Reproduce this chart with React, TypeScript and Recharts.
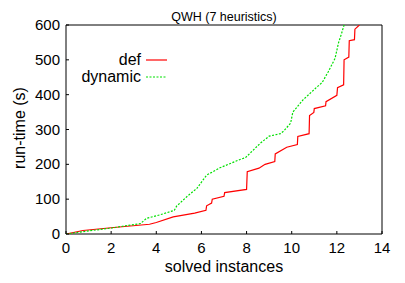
import React from 'react';
import { LineChart, Line, XAxis, YAxis, ReferenceArea } from 'recharts';

const xTicks = [0, 2, 4, 6, 8, 10, 12, 14];
const yTicks = [0, 100, 200, 300, 400, 500, 600];

const defX = [0, 0.75, 2.0, 3.7, 4.0, 4.75, 5.7, 6.2, 6.23, 6.45, 6.48, 7.0, 7.03, 8.0, 8.03, 8.55, 8.82, 9.25, 9.27, 9.78, 10.25, 10.27, 10.77, 10.79, 10.98, 11.0, 11.5, 11.52, 12.0, 12.03, 12.3, 12.32, 12.53, 12.55, 12.78, 12.8, 13.0];
const defY = [0, 10, 18, 28, 33, 49, 60, 68, 81, 89, 100, 108, 119, 128, 179, 189, 200, 208, 230, 249, 257, 280, 288, 340, 349, 360, 368, 380, 398, 420, 428, 500, 508, 555, 558, 588, 600];

const dynX = [0, 1, 2, 3.3, 3.57, 4.16, 4.8, 4.9, 5.35, 5.8, 6.23, 6.82, 7.71, 7.95, 8.6, 9.0, 9.5, 9.65, 9.95, 10.05, 10.5, 11.1, 11.35, 11.62, 11.92, 12.07, 12.21, 12.32];
const dynY = [0, 9, 17, 30, 45, 55, 68, 80, 107, 131, 169, 190, 214, 219, 260, 281, 288, 296, 318, 350, 385, 421, 435, 466, 504, 548, 576, 600];

const defData = defX.map((x, i) => ({ x, y: defY[i] }));
const dynData = dynX.map((x, i) => ({ x, y: dynY[i] }));

const FONT = 'Liberation Sans, Arial, sans-serif';
const RED = '#ff0000';
const GREEN = '#00e000';
const DASH = '2 1.5';

const XTick = (props: any) => {
  const { x, y, payload } = props;
  return (
    <g>
      <line x1={x} x2={x} y1={y} y2={y - 3} stroke="#000" strokeWidth={1} />
      <text x={x} y={y + 19} textAnchor="middle" fontSize={15} fontFamily={FONT} fill="#000">
        {payload.value}
      </text>
    </g>
  );
};

const YTick = (props: any) => {
  const { x, y, payload } = props;
  return (
    <g>
      <line x1={x} x2={x + 3} y1={y} y2={y} stroke="#000" strokeWidth={1} />
      <text x={x - 6} y={y + 5} textAnchor="end" fontSize={15} fontFamily={FONT} fill="#000">
        {payload.value}
      </text>
    </g>
  );
};

const RTick = (props: any) => {
  const { x, y } = props;
  return <line x1={x} x2={x - 3} y1={y} y2={y} stroke="#000" strokeWidth={1} />;
};

export default function App() {
  return (
    <div style={{ position: 'absolute', left: 0, top: 0, width: 405, height: 283, background: '#fff' }}>
      <LineChart width={405} height={283} margin={{ top: 25, right: 0, bottom: 0, left: 0 }}>
        <XAxis
          dataKey="x"
          type="number"
          domain={[0, 14]}
          ticks={xTicks}
          height={49}
          tickSize={0}
          tickMargin={0}
          axisLine={false}
          tickLine={false}
          tick={<XTick />}
          interval={0}
          allowDataOverflow
        />
        <YAxis
          yAxisId="left"
          type="number"
          domain={[0, 600]}
          ticks={yTicks}
          width={66}
          tickSize={0}
          tickMargin={0}
          axisLine={false}
          tickLine={false}
          tick={<YTick />}
          interval={0}
          allowDataOverflow
        />
        <YAxis
          yAxisId="right"
          orientation="right"
          type="number"
          domain={[0, 600]}
          ticks={yTicks}
          width={23}
          tickSize={0}
          tickMargin={0}
          axisLine={false}
          tickLine={false}
          tick={<RTick />}
          interval={0}
        />
        <ReferenceArea yAxisId="left" x1={0} x2={14} y1={0} y2={600} fill="none" stroke="#000" strokeWidth={1} ifOverflow="visible" />
        <Line
          yAxisId="left"
          data={defData}
          dataKey="y"
          name="def"
          type="linear"
          stroke={RED}
          strokeWidth={1.2}
          dot={false}
          isAnimationActive={false}
        />
        <Line
          yAxisId="left"
          data={dynData}
          dataKey="y"
          name="dynamic"
          type="linear"
          stroke={GREEN}
          strokeWidth={1.2}
          strokeDasharray={DASH}
          dot={false}
          isAnimationActive={false}
        />
        <g>
          <text x={141} y={65} textAnchor="end" fontSize={16} fontFamily={FONT} fill="#000">def</text>
          <line x1={146} x2={167} y1={60} y2={60} stroke={RED} strokeWidth={1.2} />
          <text x={141} y={82} textAnchor="end" fontSize={16} fontFamily={FONT} fill="#000">dynamic</text>
          <line x1={146} x2={167} y1={77} y2={77} stroke={GREEN} strokeWidth={1.2} strokeDasharray={DASH} />
        </g>
        <text x={224} y={21} textAnchor="middle" fontSize={12.5} fontFamily={FONT} fill="#000">QWH (7 heuristics)</text>
        <text x={224} y={272} textAnchor="middle" fontSize={16} fontFamily={FONT} fill="#000">solved instances</text>
        <text transform="translate(25,128) rotate(-90)" textAnchor="middle" fontSize={16} fontFamily={FONT} fill="#000">run-time (s)</text>
      </LineChart>
    </div>
  );
}
